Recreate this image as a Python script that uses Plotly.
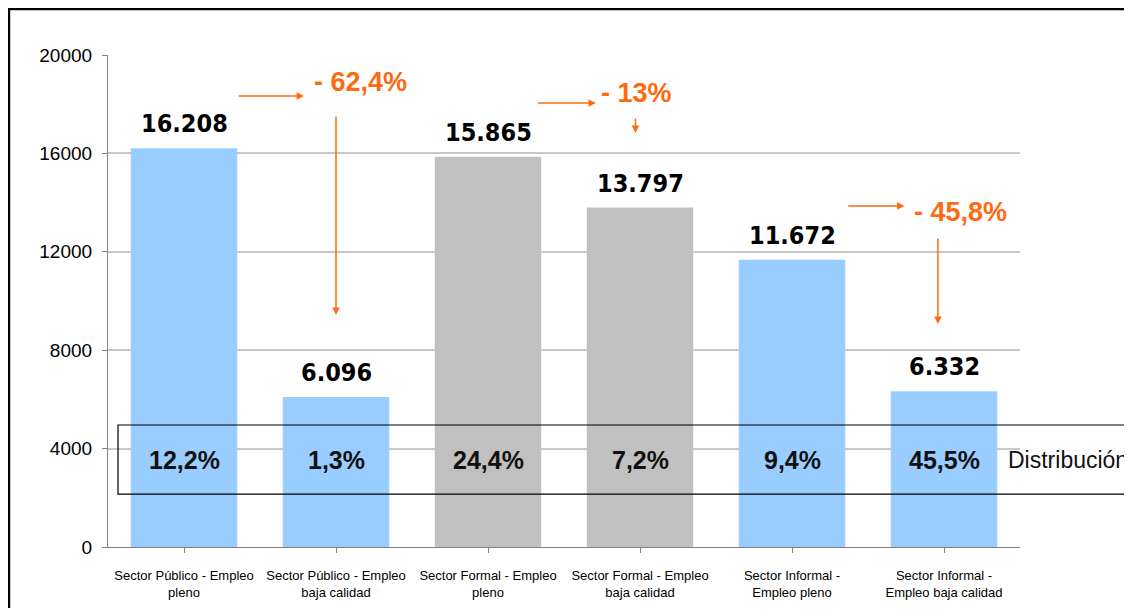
import plotly.graph_objects as go

categories = [
    "Sector Público - Empleo<br>pleno",
    "Sector Público - Empleo<br>baja calidad",
    "Sector Formal - Empleo<br>pleno",
    "Sector Formal - Empleo<br>baja calidad",
    "Sector Informal -<br>Empleo pleno",
    "Sector Informal -<br>Empleo baja calidad",
]
values = [16208, 6096, 15865, 13797, 11672, 6332]
value_labels = ["16.208", "6.096", "15.865", "13.797", "11.672", "6.332"]
distribution = ["12,2%", "1,3%", "24,4%", "7,2%", "9,4%", "45,5%"]
bar_colors = ["#99CCFF", "#99CCFF", "#C0C0C0", "#C0C0C0", "#99CCFF", "#99CCFF"]
changes = ["- 62,4%", "- 13%", "- 45,8%"]
y_ticks = [0, 4000, 8000, 12000, 16000, 20000]
y_tick_labels = ["0", "4000", "8000", "12000", "16000", "20000"]

ORANGE = "#FF6A10"
COND = "DejaVu Sans Condensed, Liberation Sans, Arial, sans-serif"
SANS = "Liberation Sans, Arial, sans-serif"

fig = go.Figure()
fig.add_trace(go.Bar(
    x=list(range(len(categories))), y=values,
    marker=dict(color=bar_colors, line=dict(width=0)),
    hoverinfo="skip",
))

annotations = []
# value labels above bars
for i, (v, lab) in enumerate(zip(values, value_labels)):
    annotations.append(dict(
        x=i, y=v, xref="x", yref="y", text=f"<b>{lab}</b>", showarrow=False,
        yanchor="bottom", yshift=8,
        font=dict(family=COND, size=25, color="#000000"),
    ))
# distribution labels inside bars
for i, d in enumerate(distribution):
    annotations.append(dict(
        x=i, y=3550, xref="x", yref="y", text=f"<b>{d}</b>", showarrow=False,
        font=dict(family=SANS, size=25, color="#111111"),
    ))
annotations.append(dict(
    x=0.985, y=3550, xref="paper", yref="y", text="Distribución", showarrow=False,
    xanchor="left", font=dict(family=SANS, size=23, color="#111111"),
))

# change arrows and texts
arrow_specs = [
    # (horizontal tail x, head x, y), text pos (x, y), vertical (x, y_tail, y_head)
    ((0.35, 0.79, 18330), (1.16, 18900), (1.0, 17560, 9430)),
    ((2.32, 2.71, 18050), (2.98, 18460), (2.97, 17480, 16830)),
    ((4.36, 4.74, 13860), (5.11, 13620), (4.96, 12600, 9065)),
]
for (h, t, vv), ch in zip(arrow_specs, changes):
    annotations.append(dict(
        x=h[1], y=h[2], ax=h[0], ay=h[2], xref="x", yref="y", axref="x", ayref="y",
        text="", showarrow=True, arrowhead=2, arrowsize=1, arrowwidth=1.5,
        arrowcolor=ORANGE, standoff=0,
    ))
    annotations.append(dict(
        x=t[0], y=t[1], xref="x", yref="y", text=f"<b>{ch}</b>", showarrow=False,
        font=dict(family=SANS, size=27, color=ORANGE),
    ))
    annotations.append(dict(
        x=vv[0], y=vv[2], ax=vv[0], ay=vv[1], xref="x", yref="y", axref="x", ayref="y",
        text="", showarrow=True, arrowhead=2, arrowsize=1, arrowwidth=1.5,
        arrowcolor=ORANGE, standoff=0,
    ))

shapes = [
    # distribution box
    dict(type="rect", xref="paper", yref="y", x0=0.011, x1=1.125, y0=2150, y1=4960,
         line=dict(color="#000000", width=1.2), fillcolor="rgba(0,0,0,0)", layer="above"),
    # right blue strip
    dict(type="rect", xref="paper", yref="paper", x0=1.1195, x1=1.14, y0=-0.3, y1=1.2,
         line=dict(width=0), fillcolor="#8DB3E2", layer="above"),
    # outer frame
    dict(type="rect", xref="paper", yref="paper", x0=-0.1086, x1=1.1184, y0=-0.3, y1=1.0935,
         line=dict(color="#000000", width=2.5), fillcolor="rgba(0,0,0,0)", layer="above"),
]

fig.update_layout(
    width=1124, height=600,
    margin=dict(l=100, r=112, t=47, b=61, pad=0, autoexpand=False),
    paper_bgcolor="#FFFFFF", plot_bgcolor="#FFFFFF",
    showlegend=False, bargap=0.3,
    annotations=annotations, shapes=shapes,
    xaxis=dict(
        tickmode="array", tickvals=list(range(len(categories))), ticktext=categories,
        range=[-0.5, 5.5], showgrid=False, showline=True, linecolor="#808080", linewidth=1.2,
        ticks="outside", tickson="boundaries", ticklen=5, tickcolor="#808080",
        tickfont=dict(family=SANS, size=13, color="#000000"),
        ticklabelstandoff=11, automargin=False,
    ),
    yaxis=dict(
        range=[0, 20000], tickmode="array", tickvals=y_ticks, ticktext=y_tick_labels,
        showgrid=True, gridcolor="#C8C8C8", gridwidth=2,
        showline=True, linecolor="#808080", linewidth=1.2, zeroline=False,
        ticks="outside", ticklen=5, tickcolor="#808080",
        tickfont=dict(family=SANS, size=19, color="#000000"),
        ticklabelstandoff=6, automargin=False,
    ),
)

fig.write_html("out.html")
